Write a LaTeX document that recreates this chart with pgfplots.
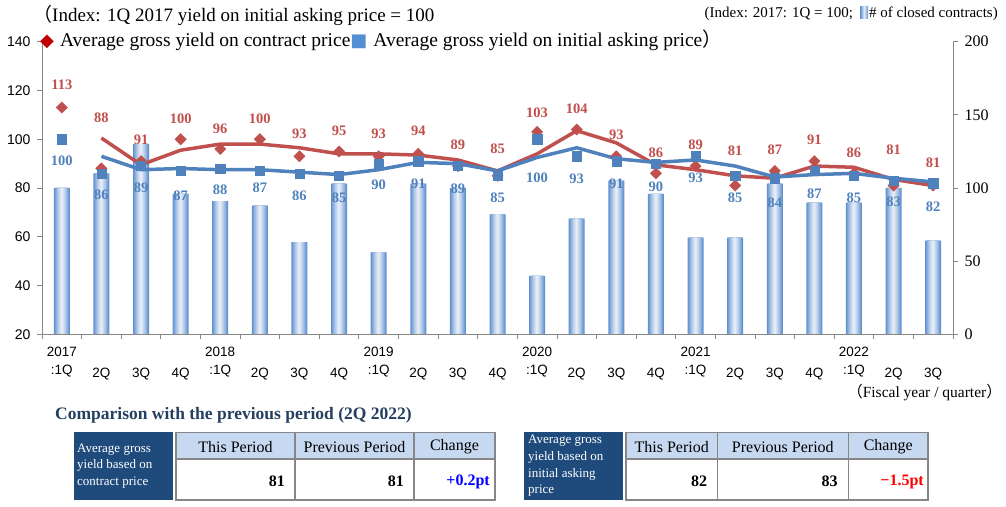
\documentclass[border=0pt]{standalone}
\usepackage{fontspec}
\setmainfont{Liberation Serif}
\setsansfont{Liberation Sans}
\newfontfamily\dejavu{DejaVu Sans}
\newfontfamily\cjk{Noto Sans CJK JP}
\usepackage{pgfplots}
\usepackage{pgfplotstable}
\pgfplotsset{compat=1.18}

\definecolor{redC}{HTML}{C0504D}
\definecolor{blueC}{HTML}{4F81BD}
\definecolor{legRed}{HTML}{C00000}
\definecolor{legBlue}{HTML}{558ED5}
\definecolor{barEdge}{HTML}{5E8FCF}
\definecolor{barMid}{HTML}{E4ECF7}
\definecolor{axisgray}{HTML}{868686}
\definecolor{navy}{HTML}{1F4A7C}
\definecolor{headblue}{HTML}{C6D9F1}
\definecolor{titlenavy}{HTML}{243F60}

\pgfplotsset{barlayer/.style 2 args={ybar, bar shift=0pt, bar width=#1, draw=none, fill=#2}}

\pgfplotstableread{
x bar red blue redma bluema redly bluely redl bluel
0 100 113 100 nan nan 122.3 91.2 113 100
1 110 88 86 100.5 93 109.0 77.1 88 86
2 130 91 89 89.5 87.5 99.7 80.3 91 89
3 96 100 87 95.5 88 108.2 76.7 100 87
4 91 96 88 98 87.5 104.1 79.2 96 88
5 88 100 87 98 87.5 108.2 79.9 100 87
6 63 93 86 96.5 86.5 102.2 76.7 93 86
7 103 95 85 94 85.5 103.4 76.2 95 85
8 56 93 90 94 87.5 102.2 81.3 93 90
9 103 94 91 93.5 90.5 103.4 81.7 94 91
10 100 89 89 91.5 90 97.7 79.6 89 89
11 82 85 85 87 87 96.3 75.8 85 85
12 40 103 100 94 92.5 110.9 84.4 103 100
13 79 104 93 103.5 96.5 112.3 83.7 104 93
14 105 93 91 98.5 92 101.8 81.7 93 91
15 96 86 90 89.5 90.5 94.3 80.6 86 90
16 66 89 93 87.5 91.5 97.9 84.0 89 93
17 66 81 85 85 89 95.2 75.8 81 85
18 103 87 84 84 84.5 95.6 74.0 87 84
19 90 91 87 89 85.5 99.7 77.8 91 87
20 90 86 85 88.5 86 94.3 75.8 86 85
21 100 81 83 83.5 84 95.6 74.4 81 83
22 64 81 82 81 82.5 90.2 72.3 81 82
}\data

\begin{document}
\begin{tikzpicture}
\path[use as bounding box] (0,0) rectangle (1006pt,506pt);

% bars on right axis
\begin{axis}[
  at={(42pt,171.7pt)}, anchor=south west,
  width=911pt, height=292.6pt, scale only axis,
  xmin=-0.5, xmax=22.5, ymin=0, ymax=200,
  axis x line=none, axis y line*=right,
  ytick={0,50,...,200},
  tick align=outside, major tick length=5pt,
  axis line style={draw=axisgray, line width=0.8pt},
  ytick style={draw=axisgray, line width=0.8pt},
  yticklabel style={font=\fontsize{16}{16}\selectfont, xshift=3pt},
  /pgf/number format/assume math mode=true,
  clip=false]
\addplot[barlayer={16pt}{barEdge}] table[x=x, y=bar]{\data};
\addplot[barlayer={14pt}{barMid!18!barEdge}] table[x=x, y=bar]{\data};
\addplot[barlayer={12pt}{barMid!34!barEdge}] table[x=x, y=bar]{\data};
\addplot[barlayer={10pt}{barMid!50!barEdge}] table[x=x, y=bar]{\data};
\addplot[barlayer={8pt}{barMid!64!barEdge}] table[x=x, y=bar]{\data};
\addplot[barlayer={6pt}{barMid!77!barEdge}] table[x=x, y=bar]{\data};
\addplot[barlayer={4pt}{barMid!88!barEdge}] table[x=x, y=bar]{\data};
\addplot[barlayer={2pt}{barMid}] table[x=x, y=bar]{\data};
\end{axis}

% yields on left axis
\begin{axis}[
  at={(42pt,171.7pt)}, anchor=south west,
  width=911pt, height=292.6pt, scale only axis,
  xmin=-0.5, xmax=22.5, ymin=20, ymax=140,
  axis x line*=bottom, axis y line*=left,
  ytick={20,40,...,140},
  xtick={0,...,22},
  xticklabels={{2017\\:1Q},{\strut\\2Q},{\strut\\3Q},{\strut\\4Q},
    {2018\\:1Q},{\strut\\2Q},{\strut\\3Q},{\strut\\4Q},
    {2019\\:1Q},{\strut\\2Q},{\strut\\3Q},{\strut\\4Q},
    {2020\\:1Q},{\strut\\2Q},{\strut\\3Q},{\strut\\4Q},
    {2021\\:1Q},{\strut\\2Q},{\strut\\3Q},{\strut\\4Q},
    {2022\\:1Q},{\strut\\2Q},{\strut\\3Q}},
  minor xtick={-0.5,0.5,...,22.5},
  tick align=outside, major tick length=5pt, minor tick length=5pt,
  major x tick style={draw=none},
  minor x tick style={draw=axisgray, line width=0.8pt},
  ytick style={draw=axisgray, line width=0.8pt},
  axis line style={draw=axisgray, line width=0.8pt},
  xticklabel style={align=center, font=\sffamily\fontsize{13.5}{18}\selectfont, yshift=-4pt},
  yticklabel style={font=\sffamily\fontsize{14}{14}\selectfont, xshift=-3pt},
  /pgf/number format/assume math mode=true,
  unbounded coords=jump,
  clip=false]
\addplot[redC, line width=3.5pt, line join=round] table[x=x, y=redma]{\data};
\addplot[blueC, line width=3.5pt, line join=round] table[x=x, y=bluema]{\data};
\addplot[only marks, mark=square*, mark size=4pt, mark options={rotate=45, fill=redC, draw=redC}]
  table[x=x, y=red]{\data};
\addplot[only marks, mark=square*, mark size=4.6pt, mark options={fill=blueC, draw=blueC}]
  table[x=x, y=blue]{\data};
\addplot[only marks, mark=none, nodes near coords, point meta=explicit symbolic,
  nodes near coords style={anchor=center, text=redC, font=\bfseries\fontsize{14.5}{14.5}\selectfont}]
  table[x=x, y=redly, meta=redl]{\data};
\addplot[only marks, mark=none, nodes near coords, point meta=explicit symbolic,
  nodes near coords style={anchor=center, text=blueC, font=\bfseries\fontsize{14.5}{14.5}\selectfont}]
  table[x=x, y=bluely, meta=bluel]{\data};
\end{axis}

\begin{scope}[shift={(0,506pt)}, yscale=-1, x=1pt, y=1pt]
% titles
\node[anchor=west, inner sep=0] at (33,15) {\fontsize{19}{19}\selectfont{\cjk （}Index: 1Q 2017 yield on initial asking price = 100};
\node[anchor=west, inner sep=0] at (40,40) {\fontsize{19.5}{19.5}\selectfont{\dejavu\color{legRed}\fontsize{18}{18}\selectfont ◆}\hspace{6pt}Average gross yield on contract price{\dejavu\color{legBlue}\fontsize{18}{18}\selectfont ■}\hspace{6pt}Average gross yield on initial asking price{\cjk ）}};
\node[anchor=east, inner sep=0] at (998,14) {\fontsize{15}{15}\selectfont (Index: 2017: 1Q = 100;\hspace{7pt}\tikz[baseline=0pt]\shade[left color=barEdge, right color=barEdge, middle color=barMid] (0,-1pt) rectangle (8pt,11pt);\hspace{1pt}\# of closed contracts)};
\node[anchor=east, inner sep=0] at (1002,393) {\fontsize{15.5}{15.5}\selectfont{\cjk （}Fiscal year / quarter{\cjk ）}};

% comparison heading
\node[anchor=west, inner sep=0, text=titlenavy] at (55,415) {\bfseries\fontsize{17.5}{17.5}\selectfont Comparison with the previous period (2Q 2022)};

% table 1
\fill[navy] (74,432.3) rectangle (173,500);
\node[anchor=north west, inner sep=0, text=white, align=left, font=\fontsize{13}{16.7}\selectfont] at (77,443.5) {Average gross\\yield based on\\contract price};
\fill[headblue] (176,432.3) rectangle (495,459);
\draw[axisgray, line width=1.2pt] (176,432.3) rectangle (495,500) (176,459) -- (495,459) (295,432.3) -- (295,500) (414,432.3) -- (414,500);
\node at (235.5,446.7) {\fontsize{16}{16}\selectfont This Period};
\node at (354.5,446.7) {\fontsize{16}{16}\selectfont Previous Period};
\node at (454.5,446.7) {\fontsize{16}{16}\selectfont Change};
\node[anchor=east, inner sep=0] at (285,481.7) {\bfseries\fontsize{16}{16}\selectfont 81};
\node[anchor=east, inner sep=0] at (404,481.7) {\bfseries\fontsize{16}{16}\selectfont 81};
\node[anchor=east, inner sep=0, text=blue] at (490,481.7) {\bfseries\fontsize{16}{16}\selectfont +0.2pt};

% table 2
\fill[navy] (524,432.3) rectangle (622.7,500);
\node[anchor=north west, inner sep=0, text=white, align=left, font=\fontsize{13}{16.7}\selectfont] at (528,435) {Average gross\\yield based on\\initial asking\\price};
\fill[headblue] (626,432.3) rectangle (928,459);
\draw[axisgray, line width=1.2pt] (626,432.3) rectangle (928,500) (626,459) -- (928,459) (717.3,432.3) -- (717.3,500) (848.3,432.3) -- (848.3,500);
\node at (671.7,446.7) {\fontsize{16}{16}\selectfont This Period};
\node at (782.8,446.7) {\fontsize{16}{16}\selectfont Previous Period};
\node at (888.2,446.7) {\fontsize{16}{16}\selectfont Change};
\node[anchor=east, inner sep=0] at (707.3,481.7) {\bfseries\fontsize{16}{16}\selectfont 82};
\node[anchor=east, inner sep=0] at (837.7,481.7) {\bfseries\fontsize{16}{16}\selectfont 83};
\node[anchor=east, inner sep=0, text=red] at (924,481.7) {\bfseries\fontsize{16}{16}\selectfont −1.5pt};
\end{scope}
\end{tikzpicture}
\end{document}
